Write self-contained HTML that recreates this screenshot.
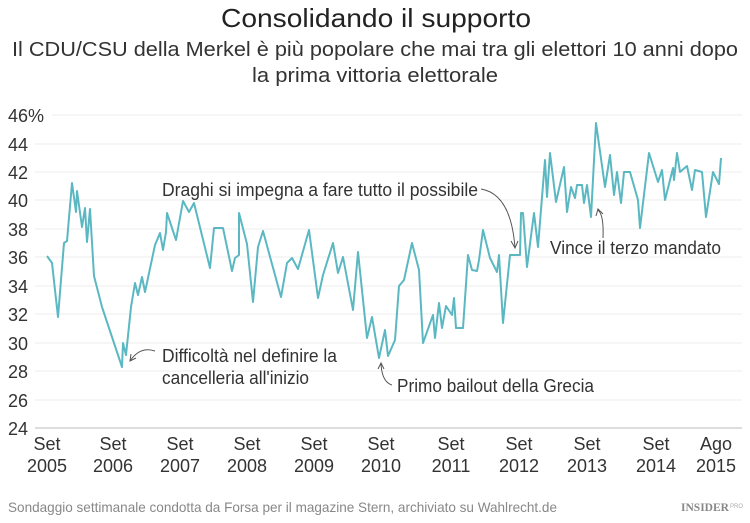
<!DOCTYPE html>
<html><head><meta charset="utf-8"><style>
html,body{margin:0;padding:0;background:#fff;}
svg{display:block;font-family:"Liberation Sans",sans-serif;}
</style></head><body>
<svg width="750" height="523" viewBox="0 0 750 523" xmlns="http://www.w3.org/2000/svg">
<text x="376" y="27" font-size="26" fill="#222" text-anchor="middle" textLength="310" lengthAdjust="spacingAndGlyphs">Consolidando il supporto</text>
<text x="375" y="56" font-size="20" fill="#333" text-anchor="middle" textLength="726" lengthAdjust="spacingAndGlyphs">Il CDU/CSU della Merkel è più popolare che mai tra gli elettori 10 anni dopo</text>
<text x="375" y="82" font-size="20" fill="#333" text-anchor="middle" textLength="246" lengthAdjust="spacingAndGlyphs">la prima vittoria elettorale</text>
<g stroke="#ececec" stroke-width="1">
<line x1="52" y1="115" x2="742" y2="115"/><line x1="35" y1="144" x2="742" y2="144"/><line x1="35" y1="172" x2="742" y2="172"/><line x1="35" y1="200" x2="742" y2="200"/><line x1="35" y1="229" x2="742" y2="229"/><line x1="35" y1="257" x2="742" y2="257"/><line x1="35" y1="286" x2="742" y2="286"/><line x1="35" y1="314" x2="742" y2="314"/><line x1="35" y1="343" x2="742" y2="343"/><line x1="35" y1="371" x2="742" y2="371"/><line x1="35" y1="400" x2="742" y2="400"/>
</g>
<line x1="35" y1="428" x2="742" y2="428" stroke="#bbb" stroke-width="1"/>
<g font-size="18" fill="#333">
<text x="8" y="122">46%</text><text x="8" y="151">44</text><text x="8" y="179">42</text><text x="8" y="207">40</text><text x="8" y="236">38</text><text x="8" y="264">36</text><text x="8" y="293">34</text><text x="8" y="321">32</text><text x="8" y="350">30</text><text x="8" y="378">28</text><text x="8" y="407">26</text><text x="8" y="435">24</text>
</g>
<g font-size="18" fill="#333" text-anchor="middle">
<text x="47" y="450">Set</text><text x="47" y="472">2005</text>
<text x="113" y="450">Set</text><text x="113" y="472">2006</text>
<text x="180" y="450">Set</text><text x="180" y="472">2007</text>
<text x="247" y="450">Set</text><text x="247" y="472">2008</text>
<text x="314" y="450">Set</text><text x="314" y="472">2009</text>
<text x="381" y="450">Set</text><text x="381" y="472">2010</text>
<text x="451" y="450">Set</text><text x="451" y="472">2011</text>
<text x="519" y="450">Set</text><text x="519" y="472">2012</text>
<text x="587" y="450">Set</text><text x="587" y="472">2013</text>
<text x="656" y="450">Set</text><text x="656" y="472">2014</text>
<text x="716" y="450">Ago</text><text x="716" y="472">2015</text>
</g>
<polyline fill="none" stroke="#5bb8c2" stroke-width="2" stroke-linejoin="round" points="47,256 52,263 58,317 64,243 67,241 72,183 76,212 77,191 82,227 85,208 87,242 90,209 94,276 102,307 122,367 123,343 126,355 131,307 135,283 138,295 142,277 145,292 155,245 160,233 163,250 166,232 167,213 176,240 183,201 189,212 194,203 210,268 214,228 223,228 232,271 235,258 239,255 239,213 247,244 253,302 258,247 263,231 281,297 287,263 292,258 298,269 309,230 318,298 323,275 333,243 338,273 343,257 353,310 358,252 367,338 372,317 379,358 385,330 388,356 395,340 399,286 404,280 412,243 419,270 423,343 433,315 435,338 439,303 442,328 446,306 452,315 454,298 456,328 463,328 468,255 472,270 477,271 479,260 483,230 490,258 497,272 499,255 503,323 510,255 520,255 521,213 523,213 527,267 534,213 538,247 545,160 547,197 550,153 556,202 564,167 567,212 571,187 575,198 577,185 582,185 584,203 587,185 591,217 596,123 605,187 610,155 614,195 617,172 621,203 624,172 630,172 638,200 640,228 649,153 658,182 662,170 665,200 673,168 674,180 677,153 680,172 687,166 692,190 695,170 702,172 706,217 713,172 719,184 721,158"/>
<g font-size="18" fill="#333" lengthAdjust="spacingAndGlyphs">
<text x="162" y="196" textLength="316" lengthAdjust="spacingAndGlyphs">Draghi si impegna a fare tutto il possibile</text>
<text x="550" y="254" textLength="171" lengthAdjust="spacingAndGlyphs">Vince il terzo mandato</text>
<text x="162" y="362" textLength="175" lengthAdjust="spacingAndGlyphs">Difficoltà nel definire la</text>
<text x="162" y="384" textLength="147" lengthAdjust="spacingAndGlyphs">cancelleria all'inizio</text>
<text x="397" y="392" textLength="197" lengthAdjust="spacingAndGlyphs">Primo bailout della Grecia</text>
</g>
<g fill="none" stroke="#555" stroke-width="1">
<path d="M481,189 Q511,194 515,248"/><path d="M511,241 L515,248 L518,241"/>
<path d="M603,238 Q604,215 598,210"/><path d="M596,216 L598,209 L603,214"/>
<path d="M155,351 Q140,346 130,361"/><path d="M131,354 L130,361 L136,358"/>
<path d="M392,385 Q382,382 381,364"/><path d="M378,369 L381,363 L384,369"/>
</g>
<text x="8" y="512" font-size="14" fill="#888" textLength="549" lengthAdjust="spacingAndGlyphs">Sondaggio settimanale condotta da Forsa per il magazine Stern, archiviato su Wahlrecht.de</text>
<text x="681" y="511" font-size="12" font-weight="bold" fill="#888" font-family="Liberation Serif,serif" textLength="48" lengthAdjust="spacingAndGlyphs">INSIDER</text>
<text x="730" y="508" font-size="6" fill="#aaa">PRO</text>
</svg>
</body></html>
